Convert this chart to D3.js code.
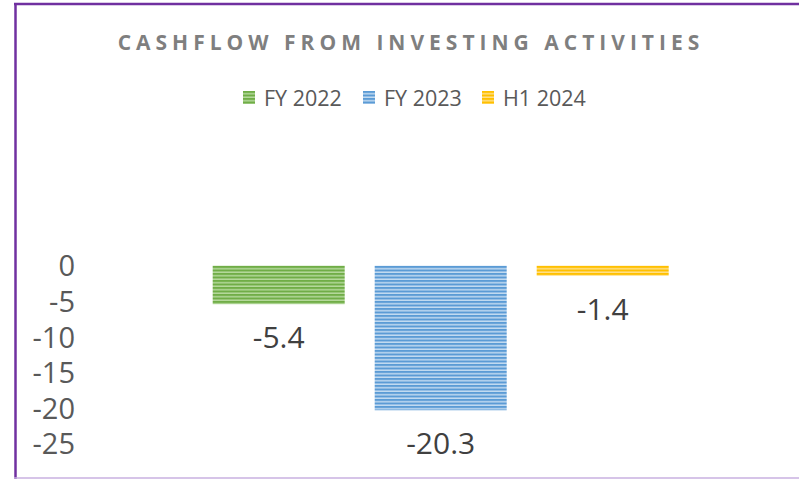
<!DOCTYPE html>
<html>
<head>
<meta charset="utf-8">
<script src="https://cdn.jsdelivr.net/npm/d3@7/dist/d3.min.js"></script>
<style>
  html, body { margin: 0; padding: 0; background: #fff; }
  svg { display: block; }
  text { font-family: "Open Sans", "Noto Sans", sans-serif; }
</style>
</head>
<body>
<svg id="chart" width="799" height="479"></svg>
<script>
const titleText = "CASHFLOW FROM INVESTING ACTIVITIES";
const seriesNames = ["FY 2022", "FY 2023", "H1 2024"];
const seriesValues = [-5.4, -20.3, -1.4];
const seriesColors = ["#70AD47", "#5B9BD5", "#FFC000"];
const seriesLight = ["#b5d99c", "#c3dbf1", "#ffe08a"];
const tickValues = [0, -5, -10, -15, -20, -25];
const valueLabels = ["-5.4", "-20.3", "-1.4"];

const svg = d3.select("#chart");
const W = 799, H = 479;

// frame
svg.append("line").attr("x1", 15.5).attr("x2", 15.5).attr("y1", 3).attr("y2", 479)
  .attr("stroke", "#7030A0").attr("stroke-width", 2.5);
svg.append("line").attr("x1", 14).attr("x2", W).attr("y1", 4).attr("y2", 4)
  .attr("stroke", "#7030A0").attr("stroke-width", 2.5);
svg.append("line").attr("x1", 14).attr("x2", W).attr("y1", 478).attr("y2", 478)
  .attr("stroke", "#c9b0e0").attr("stroke-width", 1.5);

// patterns
const defs = svg.append("defs");
seriesColors.forEach((c, i) => {
  const p = defs.append("pattern").attr("id", "pat" + i)
    .attr("patternUnits", "userSpaceOnUse").attr("width", 8).attr("height", 3.5);
  p.append("rect").attr("width", 8).attr("height", 3.5).attr("fill", seriesLight[i]);
  p.append("rect").attr("width", 8).attr("height", 2).attr("fill", c);
});

// title
const title = svg.append("text").attr("x", 411).attr("y", 50)
  .attr("text-anchor", "middle").attr("fill", "#7f7f7f")
  .attr("font-weight", "bold").attr("font-size", 21)
  .style("letter-spacing", "5px").text(titleText);

// scales
const y = d3.scaleLinear().domain([-25, 0]).range([443.7, 265.7]);
const x = d3.scaleBand().domain(seriesNames).range([197.7, 683.7]).paddingInner(30/162).paddingOuter(15/162);

// axis labels
const axis = d3.axisLeft(y).tickValues(tickValues).tickSize(0).tickPadding(0).tickFormat(d => String(d));
const ax = svg.append("g").attr("transform", "translate(75,0)").call(axis);
ax.select(".domain").remove();
ax.selectAll("text").attr("font-size", 29).attr("fill", "#595959")
  .attr("font-family", "Open Sans, sans-serif").attr("dy", "0.35em");

// bars
svg.append("g").selectAll("rect").data(seriesNames).join("rect")
  .attr("x", d => x(d))
  .attr("width", x.bandwidth())
  .attr("y", y(0))
  .attr("height", (d, i) => y(seriesValues[i]) - y(0))
  .attr("fill", (d, i) => `url(#pat${i})`);

// data labels
svg.append("g").selectAll("text").data(seriesNames).join("text")
  .attr("x", d => x(d) + x.bandwidth() / 2)
  .attr("y", (d, i) => y(seriesValues[i]) + 44)
  .attr("text-anchor", "middle").attr("font-size", 30).attr("fill", "#404040")
  .text((d, i) => valueLabels[i]);

// legend
const legendX = [243, 363, 482];
const lg = svg.append("g").selectAll("g").data(seriesNames).join("g")
  .attr("transform", (d, i) => `translate(${legendX[i]},91)`);
lg.append("rect").attr("width", 12).attr("height", 13).attr("fill", (d, i) => `url(#pat${i})`);
lg.append("text").attr("x", 21).attr("y", 15).attr("font-size", 21.5).attr("fill", "#595959").text(d => d);
</script>
</body>
</html>
